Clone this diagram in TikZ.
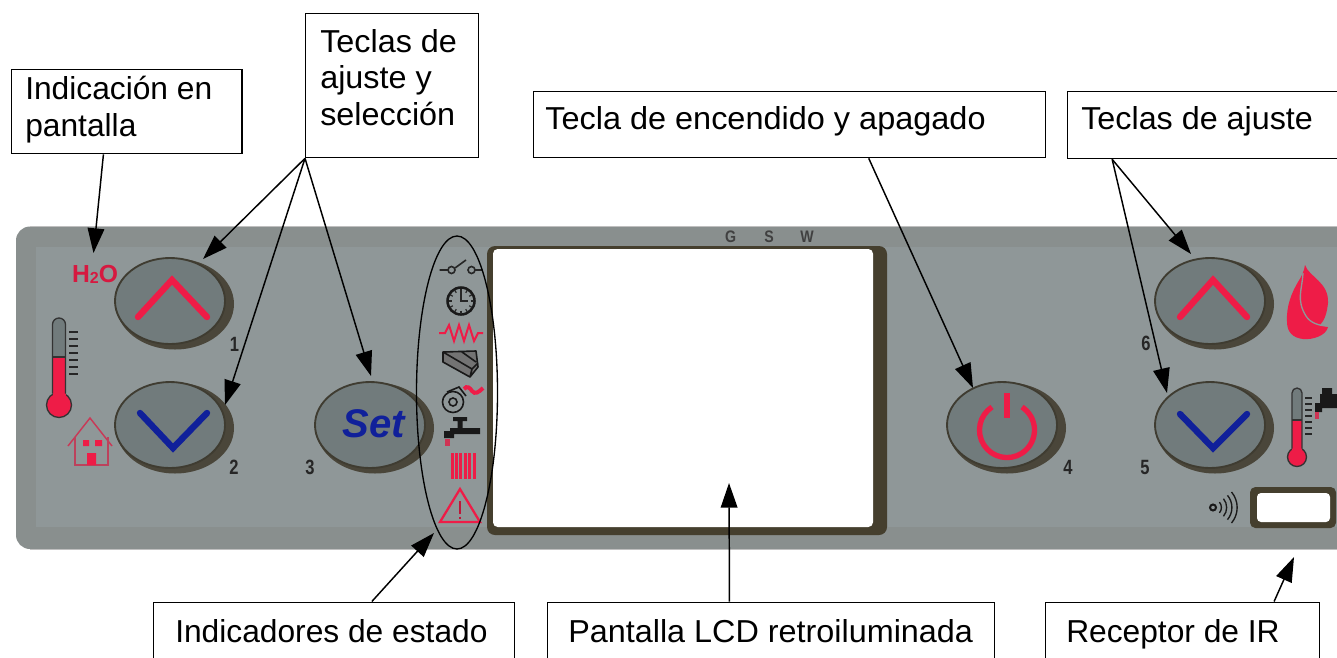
\documentclass[tikz,border=0pt]{standalone}
\usepackage{fontspec}
\setmainfont{Liberation Sans}
\usetikzlibrary{arrows.meta,calc,shapes.geometric}
\definecolor{panelc}{HTML}{8F9798}
\definecolor{panelt}{HTML}{898F8E}
\definecolor{btnc}{HTML}{717B7C}
\definecolor{btnr}{HTML}{4A463A}
\definecolor{redc}{HTML}{EE1C47}
\definecolor{bluec}{HTML}{10209A}
\definecolor{lcdb}{HTML}{453F2E}
\tikzset{
 x=0.75pt,y=-0.75pt,
 boxs/.style={draw=black,line width=1pt,fill=white,anchor=north west,inner sep=0pt},
 txt/.style={anchor=north west,inner sep=0pt,align=left,font=\fontsize{23.8pt}{27.4pt}\selectfont},
 arr/.style={draw=black,line width=1.1pt,-{Triangle[length=18.5pt,width=12.5pt]}},
 num/.style={inner sep=0pt,text=black!85,xscale=0.8,font=\bfseries\fontsize{15.5pt}{15.5pt}\selectfont},
 gsw/.style={inner sep=0pt,text=black!75,xscale=0.85,font=\bfseries\fontsize{12.5pt}{12.5pt}\selectfont},
 redl/.style={draw=redc,line width=4.8pt,line cap=round,line join=miter},
 bluel/.style={draw=bluec,line width=4.8pt,line cap=round,line join=miter},
 ico/.style={draw=black!85,line width=1.2pt},
}
\newcommand{\panelbtn}[2]{%
 \fill[btnr] (#1+5,#2+3) ellipse [x radius=59,y radius=45.5];
 \draw[draw=btnr!85!black,line width=1.4pt,fill=btnc] (#1,#2) ellipse [x radius=55,y radius=43];
}
% x, top, split, bulb y, bulb r, half tube width
\newcommand{\thermo}[6]{%
 \fill[redc] (#1,#4) circle [radius=#5];
 \draw[black!80,line width=1pt] (#1,#4) circle [radius=#5];
 \fill[btnc] (#1-#6,#3) -- (#1-#6,#2+#6) arc [start angle=180,end angle=360,radius=#6] -- (#1+#6,#3) -- cycle;
 \fill[redc] (#1-#6,#3) rectangle (#1+#6,#4);
 \draw[black!80,line width=1pt] (#1-#6,#4-#5+1) -- (#1-#6,#2+#6) arc [start angle=180,end angle=360,radius=#6] -- (#1+#6,#4-#5+1);
 \draw[black!80,line width=1pt] (#1-#6,#3) -- (#1+#6,#3);
}
\begin{document}
\begin{tikzpicture}
\useasboundingbox (0,0) rectangle (1337,657);
\clip (0,0) rectangle (1337,657);
\fill[white] (0,0) rectangle (1337,657);
% panel
\fill[panelt,rounded corners=10.5pt] (16,226.5) rectangle (1370,549);
\fill[panelc] (36,247) rectangle (1337,527);
\draw[black!25,line width=0.8pt] (30,226.5) -- (1337,226.5);
\draw[black!25,line width=0.8pt] (30,549.5) -- (1337,549.5);
% LCD
\fill[lcdb,rounded corners=6pt] (487,246) rectangle (887,535);
\fill[white,rounded corners=3.5pt] (493,249) rectangle (873,527);
\node[gsw] (gg) at (730.7,236.5) {G};
\node[gsw] (gs) at (769,236.5) {S};
\node[gsw] (gw) at (807,236.5) {W};
% buttons
\panelbtn{170}{301}\panelbtn{170}{425}\panelbtn{370}{425}
\panelbtn{1002}{425}\panelbtn{1210}{425}\panelbtn{1210}{301}
\draw[redl] (138,317) -- (172,280) -- (207,317);
\draw[bluel] (140,413) -- (173,448) -- (207,413);
\draw[redl] (1180,317) -- (1213,280) -- (1247,317);
\draw[bluel] (1180,414) -- (1213,448) -- (1247,414);
\node[inner sep=0pt,text=bluec,font=\bfseries\itshape\fontsize{30pt}{30pt}\selectfont] (setx) at (374,424) {Set};
\draw[redc,line width=4pt] (992,407) arc [start angle=237,delta angle=-294,radius=27.5];
\draw[redc,line width=4.4pt] (1007,393) -- (1007,418);
% numbers
\node[num] (n1) at (234.5,344) {1};
\node[num] (n2) at (234,467) {2};
\node[num] (n3) at (310,467) {3};
\node[num] (n4) at (1068,467) {4};
\node[num] (n5) at (1145,467) {5};
\node[num] (n6) at (1146,343) {6};
% H2O
\node[inner sep=0pt,text=redc!90!black,font=\bfseries\fontsize{18.5pt}{18.5pt}\selectfont] (hto) at (95,274) {H\raisebox{-0.05em}{\fontsize{12pt}{12pt}\selectfont 2}O};
% left thermometer
\thermo{59}{318}{357}{405}{12.5}{6.5}
\foreach \k in {0,...,6} \draw[black!85,line width=1.1pt] (69,332+7*\k) -- (78,332+7*\k);
% house
\draw[redc!70!btnc,line width=1.1pt] (68,446) -- (90,418) -- (112,446);
\draw[redc!60!btnc,line width=1.1pt] (75,437) -- (75,465) -- (108,465) -- (108,437);
\fill[redc] (83,440) rectangle (89,446) (95,440) rectangle (102,446) (87,453) rectangle (96,465);
% switch
\draw[ico] (439.5,270) -- (448,270) (455,268) -- (466,260) (475,270) -- (482.5,270);
\draw[ico] (451.5,270) circle [radius=3.5] (471.5,270) circle [radius=3.5];
% clock
\draw[black!90,line width=1.9pt] (461,301) circle [radius=13.5];
\draw[black!85,line width=0.9pt] (461,292) -- (461,301) -- (468,301);
\foreach \a in {0,30,...,330} \draw[black!85,line width=0.9pt] (461,301) ++(\a:9.5) -- ++(\a:3);
% resistor
\draw[redc,line width=1.5pt] (439,333) -- (445,333) -- (449,325) -- (454,341) -- (459,325) -- (464,341) -- (469,325) -- (474,341) -- (478,333) -- (483,333);
% rollers
\fill[black!55] (443,352) -- (476,351) -- (478,367) -- (470,377) -- (443,362) -- cycle;
\draw[black!90,line width=1.2pt,line join=round] (443,352) -- (476,351) -- (478,367) -- (470,377) -- (443,362) -- cycle (443,352) -- (472,369) -- (470,377) (472,369) -- (478,363) (462,352) -- (476,362);
% pump
\draw[black!90,line width=1.2pt] (453,402) circle [radius=10.5] (453,402) circle [radius=4];
\draw[black!90,line width=1.2pt] (447,392) -- (459,387) -- (466,396);
\draw[redc,line width=3pt] (464,389) .. controls (467,385) and (470,388) .. (472,391) .. controls (475,395) and (479,392) .. (483,388);
% tap
\fill[black!90] (450,428) rectangle (480,434) (444,431) rectangle (454,438) (457.5,419) rectangle (462.5,428) (453,417) rectangle (467,421);
\fill[redc!75!btnc] (445,439) rectangle (450,446);
% radiator
\foreach \k in {0,...,5} \fill[redc] (450.5+4.4*\k,453) rectangle (453.5+4.4*\k,479);
% warning
\draw[redc,line width=1.7pt,line join=miter] (460,489) -- (440,522) -- (480,522) -- cycle;
\draw[redc!80!black,line width=0.9pt] (460,501) -- (460,514) (460,516.5) -- (460,519);
% IR window
\fill[lcdb,rounded corners=4pt] (1250,487) rectangle (1336,528);
\fill[white,rounded corners=3pt] (1257,493) rectangle (1330,522);
\draw[black!90,line width=1.5pt] (1213,507.5) circle [radius=3];
\foreach \r in {8,13,18,23} \draw[black!90,line width=1pt] (1213,507.5) ++(-40:\r*1.05) arc [start angle=-40,end angle=40,radius=\r*1.05];
% flame
\fill[redc] (1305,265) .. controls (1309,277) and (1329,282) .. (1328,303) .. controls (1327,312) and (1325,320) .. (1320,325) -- (1328,327) .. controls (1326,336) and (1312,340) .. (1303,339) .. controls (1293,338) and (1287,332) .. (1287,322) .. controls (1286,306) and (1292,292) .. (1298,282) .. controls (1302,276) and (1304,271) .. (1305,265) -- cycle;
\draw[panelc,line width=1pt] (1303,273) .. controls (1302,290) and (1296,300) .. (1306,316) .. controls (1310,323) and (1320,326) .. (1328,326);
% right thermometer and tap
\thermo{1297}{388}{420}{457}{9.5}{5}
\foreach \k in {0,...,6} \draw[black!85,line width=1pt] (1305,398+6*\k) -- (1312,398+6*\k);
\fill[black!90] (1320,394) rectangle (1337,408) (1322,388) rectangle (1332,394) (1315,403) rectangle (1322,412);
\fill[redc!75!btnc] (1315,412) rectangle (1319,419);
% status ellipse
\node[draw=black,line width=1pt,ellipse,inner sep=0pt,minimum width=81*0.75pt,minimum height=313*0.75pt] (stat) at (457,392.5) {};
% label boxes
\node[boxs,minimum width=230.5*0.75pt,minimum height=84*0.75pt] (lInd) at (10.7,69) {};
\node[txt] (tInd) at (25,76) {Indicación en\\pantalla};
\node[boxs,minimum width=172.7*0.75pt,minimum height=144*0.75pt] (lSel) at (305,13) {};
\node[txt,xscale=1.02] (tSel) at (320,29) {Teclas de\\ajuste y\\selección};
\node[boxs,minimum width=512*0.75pt,minimum height=66*0.75pt] (lEnc) at (533,91) {};
\node[txt,xscale=1.023] (tEnc) at (545,106) {Tecla de encendido y apagado};
\node[boxs,minimum width=290*0.75pt,minimum height=67*0.75pt] (lAju) at (1067,91) {};
\node[txt,xscale=1.018] (tAju) at (1081,106) {Teclas de ajuste};
\node[boxs,minimum width=361*0.75pt,minimum height=80*0.75pt] (lEst) at (153,601.5) {};
\node[txt] (tEst) at (175,619) {Indicadores de estado};
\node[boxs,minimum width=447*0.75pt,minimum height=80*0.75pt] (lLcd) at (547,601.5) {};
\node[txt,xscale=1.02] (tLcd) at (568,619) {Pantalla LCD retroiluminada};
\node[boxs,minimum width=274*0.75pt,minimum height=80*0.75pt] (lRec) at (1045,601.5) {};
\node[txt] (tRec) at (1066,619) {Receptor de IR};
% arrow targets
\coordinate (aH) at (93.5,253);
\coordinate (aUp) at (203,259);
\coordinate (aDn) at (225,405);
\coordinate (aSet) at (371,376);
\coordinate (aPow) at (973,388);
\coordinate (aR6) at (1191,254);
\coordinate (aR5) at (1167,393);
\coordinate (aSt) at (434,533);
\coordinate (aLcd) at (729,483);
\coordinate (aIr) at (1294,557);
% connectors
\draw[arr] ($(lInd.south west)!0.40!(lInd.south east)$) -- (aH);
\draw[arr] (lSel.south west) -- (aUp);
\draw[arr] (lSel.south west) -- (aDn);
\draw[arr] (lSel.south west) -- (aSet);
\draw[arr] ($(lEnc.south west)!0.654!(lEnc.south east)$) -- (aPow);
\draw[arr] ($(lAju.south west)!0.155!(lAju.south east)$) -- (aR6);
\draw[arr] ($(lAju.south west)!0.155!(lAju.south east)$) -- (aR5);
\draw[arr] ($(lEst.north west)!0.604!(lEst.north east)$) -- (aSt);
\draw[arr] ($(lLcd.north west)!0.407!(lLcd.north east)$) -- (aLcd);
\draw[arr] ($(lRec.north west)!0.832!(lRec.north east)$) -- (aIr);
\end{tikzpicture}
\end{document}
